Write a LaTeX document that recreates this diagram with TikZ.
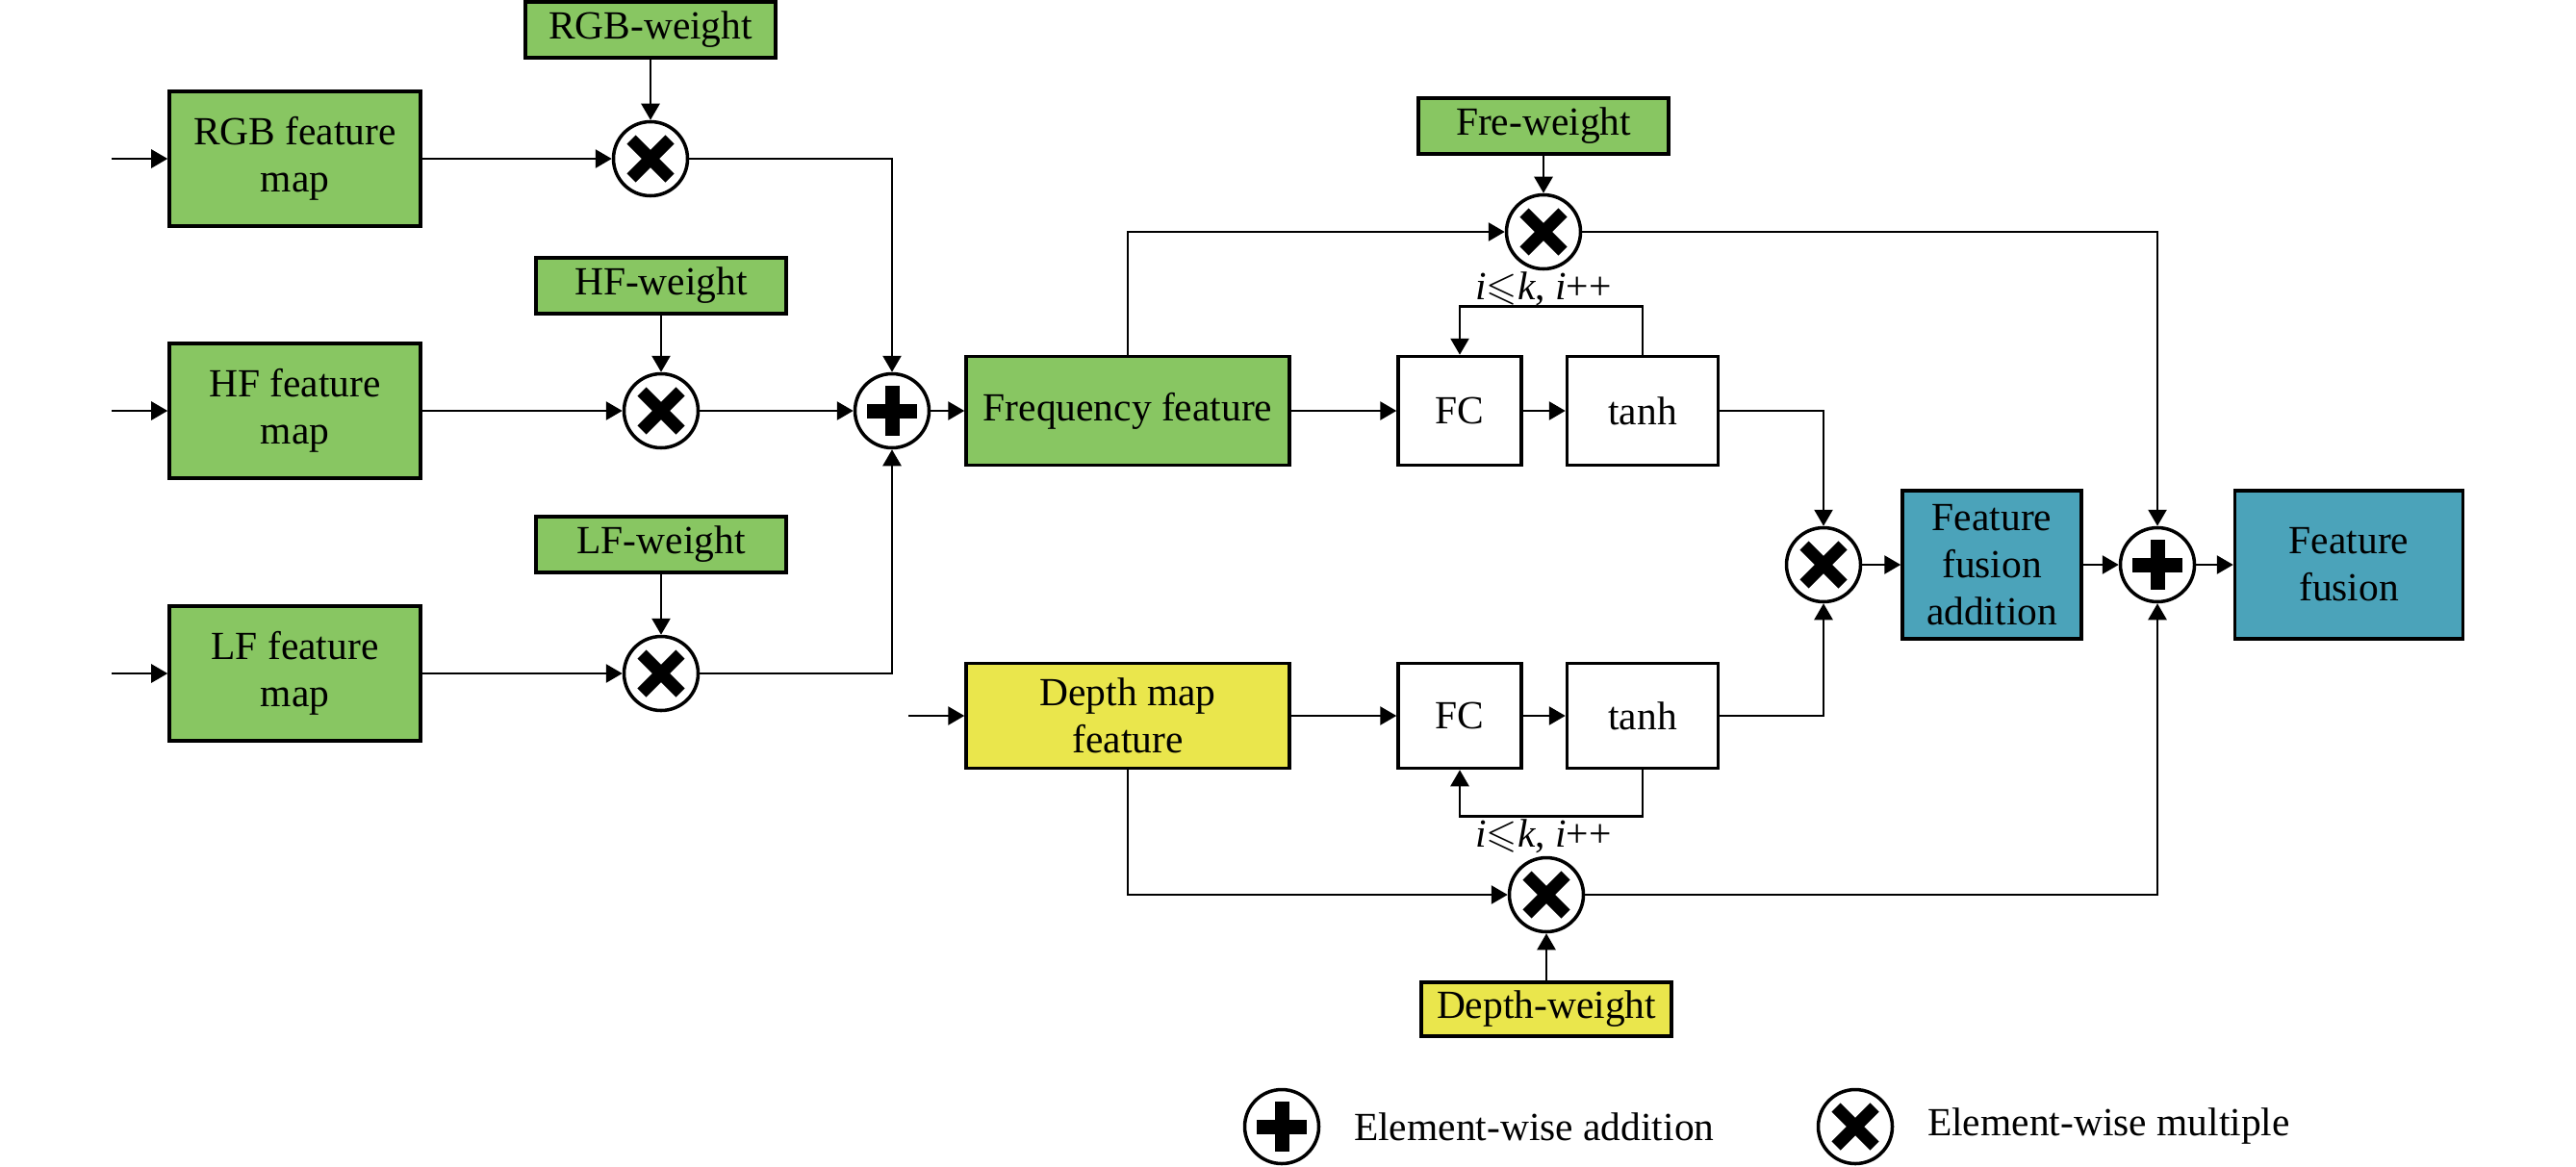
\documentclass[tikz,border=0pt]{standalone}
\usepackage{amssymb}
\usepackage{fontspec}
\setmainfont{Liberation Serif}
\usetikzlibrary{positioning, arrows.meta, calc}
\definecolor{fm_green}{RGB}{136,198,98}
\definecolor{fm_yellow}{RGB}{234,230,76}
\definecolor{fm_teal}{RGB}{75,163,186}

\begin{document}
\begin{tikzpicture}[>={Triangle[length=1.7mm, width=1.9mm]}, line width=0.75pt,
      font=\fontsize{11.8}{14}\selectfont,
      fmap/.style={draw, line width=1pt, fill=fm_green, align=center, minimum width=2.61cm,
        minimum height=1.4cm, inner sep=1pt},
      wgt/.style={draw, line width=1pt, fill=fm_green, minimum width=2.6cm, minimum height=0.58cm,
        inner sep=1pt},
      blk/.style={draw, line width=1pt, fill=white, minimum height=1.13cm, inner sep=1pt},
      fus/.style={draw, line width=1pt, fill=fm_teal, align=center, minimum height=1.54cm, inner sep=1pt},
      opmul/.style={circle, draw, line width=1pt, fill=white, minimum size=0.77cm, inner sep=0pt,
        path picture={\draw[line width=1.3mm, shift={(path picture bounding box.center)}]
          (-0.2,-0.2) -- (0.2,0.2) (-0.2,0.2) -- (0.2,-0.2);}},
      opadd/.style={circle, draw, line width=1pt, fill=white, minimum size=0.77cm, inner sep=0pt,
        path picture={\draw[line width=1.5mm, shift={(path picture bounding box.center)}]
          (-0.26,0) -- (0.26,0) (0,-0.26) -- (0,0.26);}},
      lbl/.style={inner sep=1pt}]
    \useasboundingbox (0,0) rectangle (26.77,-12.12);
    % three input feature maps and their weights
    \node[fmap] (rgb) at (3.065,-1.65) {RGB feature\\ map};
    \node[fmap] (hf)  at (3.065,-4.27) {HF feature\\ map};
    \node[fmap] (lf)  at (3.065,-7.0)  {LF feature\\ map};
    \node[wgt] (wrgb) at (6.76,-0.31) {RGB-weight};
    \node[wgt] (whf)  at (6.87,-2.97) {HF-weight};
    \node[wgt] (wlf)  at (6.87,-5.66) {LF-weight};
    \node[opmul] (mrgb) at (6.76,-1.65) {};
    \node[opmul] (mhf)  at (6.87,-4.27) {};
    \node[opmul] (mlf)  at (6.87,-7.0)  {};
    \node[opadd] (add)  at (9.27,-4.27) {};
    % frequency branch
    \node[fmap, minimum width=3.36cm, minimum height=1.13cm] (freq) at (11.72,-4.27) {Frequency feature};
    \node[wgt] (wfre) at (16.04,-1.31) {Fre-weight};
    \node[opmul] (mfre) at (16.04,-2.41) {};
    \node[blk, minimum width=1.28cm] (fc1) at (15.17,-4.27) {FC};
    \node[blk, minimum width=1.57cm] (th1) at (17.07,-4.27) {tanh};
    \node[lbl] (it1) at (16.04,-3.0) {\textit{i}$\leqslant$\textit{k}, \textit{i}++};
    % depth branch
    \node[fmap, fill=fm_yellow, minimum width=3.36cm, minimum height=1.09cm] (depth) at (11.72,-7.44) {Depth map\\ feature};
    \node[blk, minimum width=1.28cm, minimum height=1.09cm] (fc2) at (15.17,-7.44) {FC};
    \node[blk, minimum width=1.57cm, minimum height=1.09cm] (th2) at (17.07,-7.44) {tanh};
    \node[lbl] (it2) at (16.04,-8.69) {\textit{i}$\leqslant$\textit{k}, \textit{i}++};
    \node[opmul] (mdep) at (16.07,-9.3) {};
    \node[wgt, fill=fm_yellow, minimum height=0.56cm] (wdep) at (16.07,-10.49) {Depth-weight};
    % fusion
    \node[opmul] (mfus) at (18.95,-5.87) {};
    \node[fus, minimum width=1.86cm] (ffa) at (20.70,-5.87) {Feature\\ fusion\\ addition};
    \node[opadd] (sum) at (22.42,-5.87) {};
    \node[fus, minimum width=2.37cm] (ff) at (24.41,-5.87) {Feature\\ fusion};
    % legend
    \node[opadd] (lgadd) at (13.32,-11.71) {};
    \node[lbl, right=0.3cm of lgadd] (lgaddt) {Element-wise addition};
    \node[opmul] (lgmul) at (19.28,-11.71) {};
    \node[lbl, right=0.3cm of lgmul] (lgmult) {Element-wise multiple};
    \coordinate (in1) at (1.16,-1.65);
    \coordinate (in2) at (1.16,-4.27);
    \coordinate (in3) at (1.16,-7.0);
    \coordinate (in4) at (9.44,-7.44);
    \foreach \a/\b in {in1/rgb, in2/hf, in3/lf, in4/depth, wrgb/mrgb, whf/mhf, wlf/mlf,
        rgb/mrgb, hf/mhf, lf/mlf, mhf/add, add/freq, freq/fc1, fc1/th1, wfre/mfre,
        depth/fc2, fc2/th2, wdep/mdep, mfus/ffa, ffa/sum, sum/ff}
      \draw[->] (\a) -- (\b);
    \draw[->] (mrgb) -| (add);
    \draw[->] (mlf) -| (add);
    \draw[->] (freq) |- (mfre);
    \draw[->] (mfre) -| (sum);
    \draw[->] (depth) |- (mdep);
    \draw[->] (mdep) -| (sum);
    \draw[->] (th1) -| (mfus);
    \draw[->] (th2) -| (mfus);
    \draw[->] (th1.north) -- ++(0,0.5) -| (fc1.north);
    \draw[->] (th2.south) -- ++(0,-0.48) -| (fc2.south);
  \end{tikzpicture}
\end{document}
